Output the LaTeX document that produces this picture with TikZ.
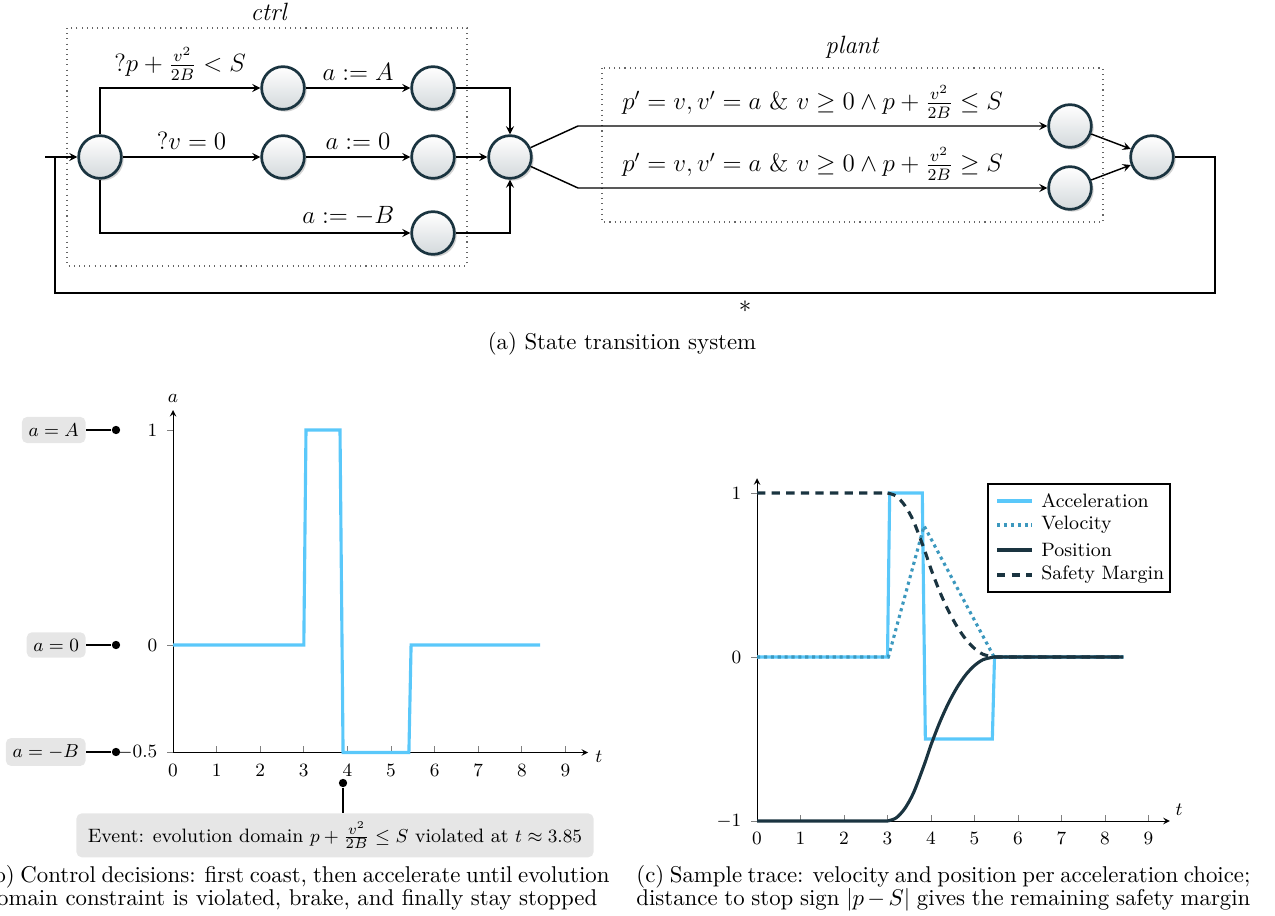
\documentclass[tikz,border=0pt]{standalone}
\usepackage{amssymb}
\usepackage{tikz}
\usetikzlibrary{shadows,positioning}
\definecolor{accblue}{RGB}{90,200,250}
\definecolor{velblue}{RGB}{60,152,190}
\definecolor{darkc}{RGB}{26,52,64}
\definecolor{nodegray}{RGB}{212,217,220}
\definecolor{boxgray}{RGB}{230,230,230}

\tikzset{
  loc/.style={circle, draw=darkc, line width=1.3pt, minimum size=20.5pt, inner sep=0pt,
    top color=white, bottom color=nodegray,
    drop shadow={opacity=0.35, shadow xshift=1.1pt, shadow yshift=-1.1pt}},
  edge/.style={->, line width=0.7pt},
  grp/.style={dotted, line width=0.5pt, gray!80!black},
  lbl/.style={fill=boxgray, rounded corners=2.5pt, inner sep=3.2pt},
  pin/.style={circle, fill=black, inner sep=0pt, minimum size=4pt},
  ax/.style={->, line width=0.4pt},
  tck/.style={gray, line width=0.4pt},
  accl/.style={accblue, line width=1.5pt},
  vell/.style={velblue, line width=1.5pt, dash pattern=on 1.5pt off 1.8pt},
  posl/.style={darkc, line width=1.5pt},
  safl/.style={darkc, line width=1.5pt, dash pattern=on 4pt off 3pt},
  capfont/.style={font=\fontsize{10.95}{11.2}\selectfont},
  capt/.style={capfont, anchor=north west, text width=294.7pt, align=justify, inner sep=0pt}
}

\begin{document}
\begin{tikzpicture}[x=0.48pt,y=-0.48pt,>=stealth]
  \useasboundingbox (0,0) rectangle (1275,916);

  % (a) state transition system
  \begin{scope}[font=\fontsize{11.8}{14}\selectfont]
   \draw[grp] (67,28) rectangle (467,266);
   \node (ctrl) at (270,12) {$\mathit{ctrl}$};
   \draw[grp] (602,68) rectangle (1103,222);
   \node (plant) at (853,47) {$\mathit{plant}$};

   \node[loc] (s0) at (100,157) {};
   \node[loc] (s1) at (283,88) {};
   \node[loc] (s2) at (283,157) {};
   \node[loc] (s3) at (433,88) {};
   \node[loc] (s4) at (433,157) {};
   \node[loc] (s5) at (433,233) {};
   \node[loc] (s6) at (510,157) {};
   \node[loc] (s7) at (1070,126) {};
   \node[loc] (s8) at (1070,188) {};
   \node[loc] (s9) at (1152,157) {};

   \draw[edge] (s0) |- node[above,pos=0.75] {$?p+\frac{v^2}{2B}<S$} (s1);
   \draw[edge] (s0) -- node[above] {$?v=0$} (s2);
   \draw[edge] (s0) |- node[above,pos=0.9] {$a:=-B$} (s5);
   \draw[edge] (s1) -- node[above] {$a:=A$} (s3);
   \draw[edge] (s2) -- node[above] {$a:=0$} (s4);
   \draw[edge] (s3) -| (s6);
   \draw[edge] (s4) -- (s6);
   \draw[edge] (s5) -| (s6);

   \coordinate (f1) at (578,126);
   \coordinate (f2) at (578,188);
   \draw[edge] (s6) -- (f1) -- node[above] {$p'=v,v'=a\ \&\ v\geq0\wedge p+\frac{v^2}{2B}\leq S$} (s7);
   \draw[edge] (s6) -- (f2) -- node[above] {$p'=v,v'=a\ \&\ v\geq0\wedge p+\frac{v^2}{2B}\geq S$} (s8);
   \draw[edge] (s7) -- (s9);
   \draw[edge] (s8) -- (s9);

   % loop back
   \coordinate (r1) at (1215,293);
   \coordinate (r2) at (55,293);
   \coordinate (r3) at (55,157);
   \coordinate (init) at (45,157);
   \draw[line width=0.7pt] (s9) -| (r1) -- node[below,pos=0.405] {$*$} (r2) -- (r3);
   \draw[edge] (init) -- (s0);
  \end{scope}
  \node[capfont] (capa) at (622,344) {(a) State transition system};

  % (b) control decisions
  \begin{scope}[shift={(173,645)}, x=20.93pt, y=103.2pt, font=\fontsize{9.3}{11}\selectfont]
   \foreach \x in {1,...,9}
     \draw[tck] (\x,-0.5) -- ++(0,3pt);
   \foreach \x in {0,...,9}
     \node[below=2pt] at (\x,-0.5) {$\x$};
   \foreach \y/\t in {1/1,0/0,-0.5/-0.5} {
     \draw[tck] (0,\y) -- ++(-3pt,0);
     \node[left=4pt] at (0,\y) {$\t$};
   }
   \draw[ax] (0,-0.5) -- (9.52,-0.5) node[right, yshift=-2pt] {$t$};
   \draw[ax] (0,-0.5) -- (0,1.093) node[above] {$a$};
   \draw[accl] (0,0) -- (3,0) -- (3.05,1) -- (3.83,1) -- (3.9,-0.5) -- (5.41,-0.5) -- (5.46,0) -- (8.42,0);
  \end{scope}

  \begin{scope}[font=\fontsize{9.3}{11}\selectfont]
   \node[pin] (pA) at (116,430) {};
   \node[pin] (p0) at (116,645) {};
   \node[pin] (pB) at (116,752) {};
   \node[lbl, anchor=east] (lA) at (86,430) {$a=A$};
   \node[lbl, anchor=east] (l0) at (86,645) {$a=0$};
   \node[lbl, anchor=east] (lB) at (86,752) {$a=-B$};
   \draw[line width=1.2pt] (lA) -- (pA);
   \draw[line width=1.2pt] (l0) -- (p0);
   \draw[line width=1.2pt] (lB) -- (pB);

   \node[pin] (pE) at (343,783) {};
   \node[lbl, anchor=north, inner xsep=5.5pt, inner ysep=4pt] (ev) at (335,813) {Event: evolution domain $p+\frac{v^2}{2B}\leq S$ violated at $t\approx3.85$};
   \draw[line width=1.2pt] (pE) -- (pE |- ev.north);
  \end{scope}

  % (c) sample trace
  \begin{scope}[shift={(757,657)}, x=20.88pt, y=78.72pt, font=\fontsize{9.3}{11}\selectfont]
   \foreach \x in {1,...,9}
     \draw[tck] (\x,-1) -- ++(0,3pt);
   \foreach \x in {0,...,9}
     \node[below=2pt] at (\x,-1) {$\x$};
   \foreach \y in {1,0,-1} {
     \draw[tck] (0,\y) -- ++(-3pt,0);
     \node[left=4pt] at (0,\y) {$\y$};
   }
   \draw[ax] (0,-1) -- (9.49,-1) node[above right=-1pt] {$t$};
   \draw[ax] (0,-1) -- (0,1.09);

   \draw[accl] (0,0) -- (3,0) -- (3.05,1) -- (3.8,1) -- (3.87,-0.5) -- (5.41,-0.5) -- (5.46,0) -- (8.42,0);
   \draw[vell] (0,0) -- (3.02,0) -- (3.84,0.8) -- (5.45,0) -- (8.42,0);
   \draw[posl] (0,-1) -- (3,-1) plot[smooth] coordinates {(3,-1) (3.2,-0.981) (3.4,-0.923) (3.6,-0.827)
     (3.85,-0.653) (4.0,-0.536) (4.2,-0.399) (4.4,-0.282) (4.6,-0.185) (4.8,-0.108) (5.0,-0.052)
     (5.2,-0.016) (5.45,0)} -- (8.42,0);
   \draw[safl] (0,1) -- (3,1) plot[smooth] coordinates {(3,1) (3.2,0.981) (3.4,0.923) (3.6,0.827)
     (3.85,0.653) (4.0,0.536) (4.2,0.399) (4.4,0.282) (4.6,0.185) (4.8,0.108) (5.0,0.052)
     (5.2,0.016) (5.45,0)} -- (8.42,0);
  \end{scope}

  % legend
  \begin{scope}[font=\fontsize{9.3}{11}\selectfont]
   \draw[line width=0.5pt] (988,484) rectangle (1170,592);
   \draw[accl] (997,501) -- (1032,501);
   \draw[vell] (997,525) -- (1032,525);
   \draw[posl] (997,550) -- (1032,550);
   \draw[safl] (997,575) -- (1032,575);
   \node[anchor=west] (gA) at (1034,501) {Acceleration};
   \node[anchor=west] (gV) at (1034,525) {Velocity};
   \node[anchor=west] (gP) at (1034,550) {Position};
   \node[anchor=west] (gS) at (1034,575) {Safety Margin};
  \end{scope}

  % captions
  \node[capfont, anchor=base west, inner sep=0pt] (capb1) at (-16,882)
    {\makebox[300pt][s]{(b) Control decisions: first coast, then accelerate until evolution}};
  \node[capfont, anchor=base west, inner sep=0pt] (capb2) at ([yshift=-11.2pt]capb1.base west)
    {domain constraint is violated, brake, and finally stay stopped};
  \node[capt] (capc) at (636,865)
    {(c) Sample trace: velocity and position per acceleration choice;\linebreak distance to stop sign $|p-S|$ gives the remaining safety margin\parfillskip=0pt};
\end{tikzpicture}
\end{document}
